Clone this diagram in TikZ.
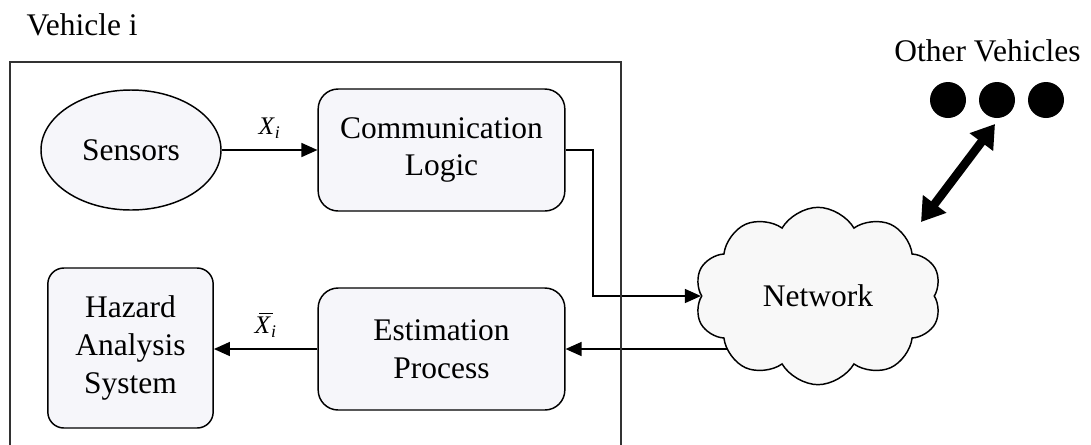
\documentclass[tikz,border=0pt]{standalone}
\usepackage{fontspec}
\setmainfont{Liberation Serif}
\usetikzlibrary{arrows.meta,shapes.geometric,shapes.symbols,backgrounds,calc}
\definecolor{boxfill}{RGB}{246,246,250}
\definecolor{cloudfill}{RGB}{248,248,248}
\begin{document}
\begin{tikzpicture}[x=0.75pt,y=-0.75pt,
  mainfont/.style={font=\fontsize{23.6}{28.3}\selectfont},
  lblfont/.style={font=\fontsize{19}{22}\selectfont},
  blockbox/.style={draw, line width=1.1pt, rounded corners=15pt, fill=boxfill, align=center, mainfont, inner sep=0pt},
  arr/.style={line width=1.1pt, -{Triangle[length=12pt,width=10.5pt]}},
  bigarr/.style={line width=6.5pt, {Triangle[length=17pt,width=21pt]}-{Triangle[length=17pt,width=21pt]}},
  dot/.style={circle, fill=black, inner sep=0pt, minimum size=27pt}
]
\useasboundingbox (0,0) rectangle (1091,444);
% outer vehicle box
\draw[line width=1.3pt, draw={rgb,255:red,50;green,50;blue,50}] (10,470) -- (10,62) -- (621,62) -- (621,470);
\node[mainfont, anchor=base west] (vt) at (22,35) {Vehicle i};
\node[mainfont, anchor=base] (ot) at (987.5,61) {Other Vehicles};

\node[draw, ellipse, line width=1.1pt, fill=boxfill, mainfont, minimum width=135pt, minimum height=90pt, inner sep=0pt] (sens) at (131,150) {Sensors};
\node[blockbox, minimum width=185pt, minimum height=91.5pt] (comm) at (441.5,150) {Communication\\Logic};
\node[blockbox, minimum width=185pt, minimum height=91.5pt] (est) at (441.5,349) {Estimation\\Process};
\node[blockbox, rounded corners=12pt, minimum width=124pt, minimum height=120pt] (haz) at (130.5,348) {Hazard\\Analysis\\System};
\node[cloud, draw, line width=1.1pt, fill=cloudfill, cloud puffs=10, cloud puff arc=120, cloud ignores aspect, minimum width=185pt, minimum height=133pt, mainfont, inner sep=0pt] (net) at (818,296) {Network};

\node[dot] (d1) at (948,100) {};
\node[dot] (d2) at (997,100) {};
\node[dot] (d3) at (1046,100) {};
\coordinate (vtip) at (995,124);
\coordinate (ctip) at (921,222);

\draw[arr] (sens.east) -- node[lblfont, above=5pt] (xl) {\textit{X}\textsubscript{\textit{i}}} (comm.west);
\draw[arr] (est.west) -- node[lblfont, above=5pt] (xbl) {\rlap{\hspace{0.18em}\rule[0.78em]{0.55em}{0.6pt}}\textit{X}\textsubscript{\textit{i}}} (est.west -| haz.east);
\begin{scope}[on background layer]
\draw[arr] (comm.east) -- (593,150) |- (net.west);
\draw[arr] ($(net.west |- est.east)+(30,0)$) -- (est.east);
\end{scope}
\draw[bigarr] (vtip) -- (ctip);
\end{tikzpicture}
\end{document}
